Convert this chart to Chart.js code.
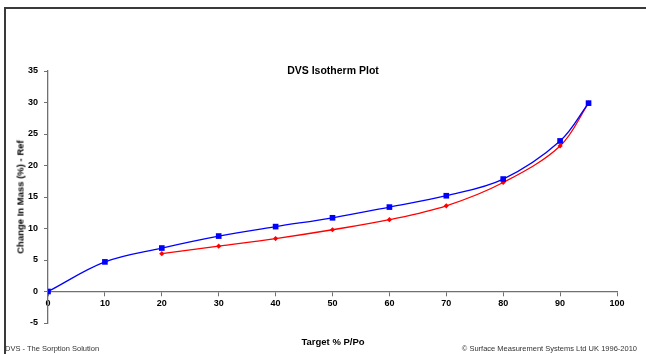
<!DOCTYPE html>
<html>
<head>
<meta charset="utf-8">
<script src="https://cdn.jsdelivr.net/npm/chart.js@4"></script>
<style>
	body { margin: 0; background: #ffffff; font-family: Arial, "Liberation Sans", sans-serif; overflow: hidden; }
	#wrap { position: relative; width: 646px; height: 354px; overflow: hidden; }
	#frame { position: absolute; left: 4px; top: 7px; width: 642px; height: 347px; border-left: 2px solid #3a3a3a; border-top: 2px solid #3a3a3a; box-sizing: border-box; }
	#chart { position: absolute; left: 0; top: 0; }
	.txt { position: absolute; white-space: nowrap; color: #000; }
	#title { left: 333px; top: 70px; transform: translate(-50%, -50%); font-weight: bold; font-size: 10.5px; }
	#ytitle { left: 20px; top: 197px; transform: translate(-50%, -50%) rotate(-90deg); font-weight: bold; font-size: 9.5px; }
	#xtitle { left: 333px; top: 341px; transform: translate(-50%, -50%); font-weight: bold; font-size: 9.5px; }
	#foot-left { left: 5px; top: 348px; transform: translateY(-50%); font-size: 7.5px; color: #333; }
	#foot-right { right: 9px; top: 348px; transform: translateY(-50%); font-size: 7.5px; color: #333; }
</style>
</head>
<body>
<div id="wrap">
	<div id="frame"></div>
	<canvas id="chart" width="646" height="354"></canvas>
	<div class="txt" id="title">DVS Isotherm Plot</div>
	<div class="txt" id="ytitle">Change In Mass (%) - Ref</div>
	<div class="txt" id="xtitle">Target % P/Po</div>
	<div class="txt" id="foot-left">DVS - The Sorption Solution</div>
	<div class="txt" id="foot-right">© Surface Measurement Systems Ltd UK 1996-2010</div>
</div>
<script>
// 흡착 (파랑) / 탈착 (빨강) - 그림에서 읽은 값
const sorptionRH = [0, 10, 20, 30, 40, 50, 60, 70, 80, 90, 95];
const sorptionMass = [0, 4.7, 6.9, 8.8, 10.3, 11.7, 13.4, 15.2, 17.85, 23.9, 29.9];
const desorptionRH = [20, 30, 40, 50, 60, 70, 80, 90, 95];
const desorptionMass = [6.0, 7.2, 8.4, 9.8, 11.4, 13.6, 17.3, 23.1, 29.9];

// 축 범위
const xMin = 0, xMax = 100, xStep = 10;
const yMin = -5, yMax = 35, yStep = 5;

const toPoints = (xs, ys) => xs.map((x, i) => ({ x: x, y: ys[i] }));

const axisColor = '#707070';
const tickFont = { family: 'Arial, "Liberation Sans", sans-serif', size: 9, weight: 'bold' };

new Chart(document.getElementById('chart'), {
	type: 'line',
	data: {
		datasets: [
			{
				label: 'Sorption',
				data: toPoints(sorptionRH, sorptionMass),
				borderColor: '#0000ff',
				backgroundColor: '#0000ff',
				borderWidth: 1.3,
				pointStyle: 'rect',
				pointRadius: 4,
				pointBorderWidth: 0,
				tension: 0.35,
				order: 0 // 파랑을 위에 그림
			},
			{
				label: 'Desorption',
				data: toPoints(desorptionRH, desorptionMass),
				borderColor: '#ff0000',
				backgroundColor: '#ff0000',
				borderWidth: 1.3,
				pointStyle: 'rectRot',
				pointRadius: 2.6,
				pointBorderWidth: 0,
				tension: 0.35,
				order: 1
			}
		]
	},
	options: {
		responsive: false,
		animation: false,
		layout: { padding: { left: 0, top: 71, right: 29, bottom: 31 } },
		plugins: {
			legend: { display: false },
			tooltip: { enabled: false }
		},
		scales: {
			x: {
				type: 'linear',
				position: { y: 0 }, // x축은 0에서 교차
				min: xMin, max: xMax,
				ticks: { stepSize: xStep, color: '#000', font: tickFont, padding: 3, maxRotation: 0 },
				grid: { drawOnChartArea: false, drawTicks: true, tickLength: 4, color: axisColor },
				border: { display: true, color: axisColor, width: 1.3 }
			},
			y: {
				type: 'linear',
				position: 'left',
				min: yMin, max: yMax,
				ticks: { stepSize: yStep, color: '#000', font: tickFont, padding: 6 },
				grid: { drawOnChartArea: false, drawTicks: true, tickLength: 4, color: axisColor },
				border: { display: true, color: axisColor, width: 1.3 },
				afterFit: function(scale) { scale.width = 48; }
			}
		}
	}
});
</script>
</body>
</html>
